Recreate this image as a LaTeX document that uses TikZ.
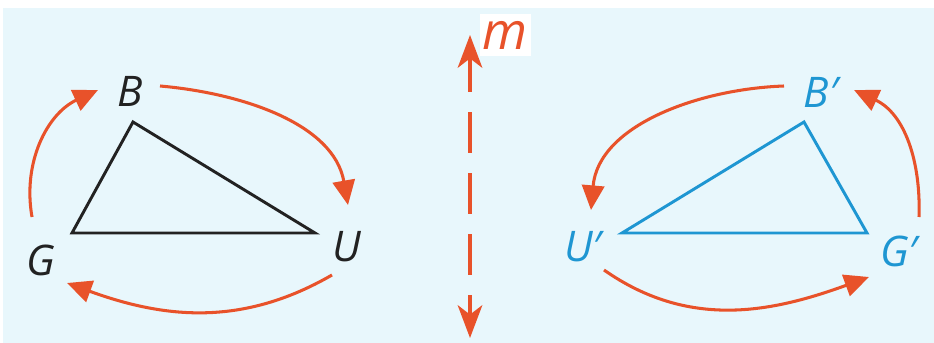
\documentclass[tikz,border=0pt]{standalone}
\usepackage{fontspec}
\newfontfamily\lblfont{Open Sans}
\usetikzlibrary{arrows.meta,positioning}
\definecolor{Red}{HTML}{E8522A}
\definecolor{Sky}{HTML}{E8F7FC}
\definecolor{Cyan}{HTML}{1E96D2}
\definecolor{Ink}{HTML}{222222}

\begin{document}
\begin{tikzpicture}[x=0.03cm,y=0.03cm,
    lbl/.style={font=\lblfont\itshape\fontsize{36}{40}\selectfont,inner sep=0pt},
    turn/.style={Red,line width=2.6pt,-{Triangle[length=21pt,width=19pt]}},
    tri/.style={line width=2.5pt,line join=miter}]
  \useasboundingbox (0,0) rectangle (934,-343);
  \fill[Sky] (3,-8) rectangle (934,-343);

  % line of reflection
  \coordinate (mtop) at (470,-35);
  \coordinate (mbot) at (470,-338);
  \draw[Red,line width=2.6pt,dash pattern=on 35pt off 17pt,dash phase=5pt,
    {Stealth[length=28pt,width=21pt,inset=8pt]}-{Stealth[length=28pt,width=21pt,inset=8pt]}] (mtop) -- (mbot);
  \node[fill=white,text=Red,font=\lblfont\itshape\fontsize{44}{44}\selectfont,
    minimum width=44pt,minimum height=36pt,inner sep=0pt,right=8pt of mtop] (m) {m};

  % preimage
  \coordinate (Bv) at (133,-122);
  \coordinate (Gv) at (72,-233);
  \coordinate (Uv) at (315,-233);
  \draw[tri,Ink] (Bv) -- (Uv) -- (Gv) -- cycle;
  \node[lbl,text=Ink] (B) at (130,-91) {B};
  \node[lbl,text=Ink] (G) at (41,-260) {G};
  \node[lbl,text=Ink] (U) at (347,-247) {U};

  % image
  \coordinate (Bpv) at (804,-122);
  \coordinate (Upv) at (622,-233);
  \coordinate (Gpv) at (867,-233);
  \draw[tri,Cyan] (Bpv) -- (Gpv) -- (Upv) -- cycle;
  \node[lbl,text=Cyan] (Bp) at (821,-92) {B′};
  \node[lbl,text=Cyan] (Up) at (583,-247) {U′};
  \node[lbl,text=Cyan] (Gp) at (899,-251) {G′};

  % orientation arrows
  \coordinate (gb1) at (32,-217);   \coordinate (gb2) at (98,-90);
  \coordinate (bu1) at (160,-86);   \coordinate (bu2) at (348,-205);
  \coordinate (ug1) at (332,-275);  \coordinate (ug2) at (67,-283);
  \draw[turn] (gb1) to[out=100,in=205] (gb2);
  \draw[turn] (bu1) to[out=-5,in=100,looseness=0.95] (bu2);
  \draw[turn] (ug1) to[out=210,in=-20] (ug2);

  \coordinate (bu3) at (784,-86);   \coordinate (bu4) at (591,-210);
  \coordinate (gb3) at (919,-217);  \coordinate (gb4) at (854,-90);
  \coordinate (ug3) at (604,-270);  \coordinate (ug4) at (869,-277);
  \draw[turn] (bu3) to[out=182,in=85,looseness=0.95] (bu4);
  \draw[turn] (gb3) to[out=88,in=-25] (gb4);
  \draw[turn] (ug3) to[out=-35,in=200] (ug4);
\end{tikzpicture}
\end{document}
